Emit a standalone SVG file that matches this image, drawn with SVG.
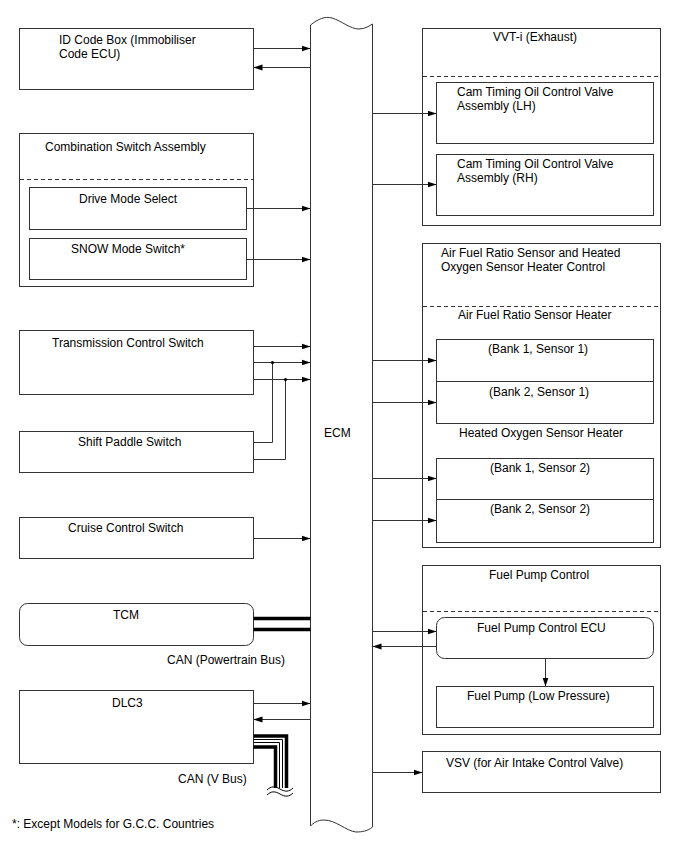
<svg xmlns="http://www.w3.org/2000/svg" width="688" height="852" viewBox="0 0 688 852">
<style>
text{font-family:"Liberation Sans",Arial,sans-serif;font-size:12px;fill:#000}
.b{fill:#fff;stroke:#333;stroke-width:1}
.d{fill:none;stroke:#333;stroke-width:1;stroke-dasharray:4 3}
.w{fill:none;stroke:#333;stroke-width:1}
.c{fill:none;stroke:#000;stroke-width:3.5}
.t{fill:none;stroke:#000;stroke-width:1}
.a{fill:none;stroke:#333;stroke-width:1;marker-end:url(#ah)}
</style>
<defs>
<marker id="ah" markerUnits="userSpaceOnUse" markerWidth="10" markerHeight="8" refX="9" refY="4" orient="auto">
<path d="M0,1 L9,4 L0,7 Z" fill="#000"/>
</marker>
</defs>
<rect width="688" height="852" fill="#fff"/>

<g id="ecm">
<path class="b" d="M310.5,25 C318,19 325,16 332,18 C342,21 350,29 359,29 C365,29 369,26 372.5,24 V827 C368,831 362,832 356,832 C346,831 336,820 324,820 C318,820 313,823 310.5,826 Z"/>
<text x="324" y="437">ECM</text>
</g>

<g id="id-code-box">
<rect class="b" x="19.5" y="28.5" width="234" height="61"/>
<text x="59" y="44">ID Code Box (Immobiliser</text>
<text x="59" y="58">Code ECU)</text>
</g>

<g id="combination-switch">
<rect class="b" x="19.5" y="133.5" width="234" height="153"/>
<text x="45" y="151">Combination Switch Assembly</text>
<line class="d" x1="20" y1="179.5" x2="253" y2="179.5"/>
<g id="drive-mode-select">
<rect class="b" x="29.5" y="187.5" width="217" height="42"/>
<text x="79" y="203">Drive Mode Select</text>
</g>
<g id="snow-mode-switch">
<rect class="b" x="29.5" y="238.5" width="217" height="41"/>
<text x="71" y="253">SNOW Mode Switch*</text>
</g>
</g>

<g id="transmission-control-switch">
<rect class="b" x="19.5" y="330.5" width="234" height="64"/>
<text x="52" y="347">Transmission Control Switch</text>
</g>

<g id="shift-paddle-switch">
<rect class="b" x="19.5" y="431.5" width="234" height="41"/>
<text x="78" y="446">Shift Paddle Switch</text>
</g>

<g id="cruise-control-switch">
<rect class="b" x="19.5" y="517.5" width="234" height="41"/>
<text x="68" y="532">Cruise Control Switch</text>
</g>

<g id="tcm">
<rect class="b" x="19.5" y="603.5" width="234" height="42" rx="8" ry="8"/>
<text x="113" y="619">TCM</text>
</g>

<g id="dlc3">
<rect class="b" x="19.5" y="690.5" width="234" height="73"/>
<text x="112" y="707">DLC3</text>
</g>

<g id="vvt-i">
<rect class="b" x="422.5" y="28.5" width="238" height="197"/>
<text x="493" y="41">VVT-i (Exhaust)</text>
<line class="d" x1="423" y1="76.5" x2="660" y2="76.5"/>
<g id="cam-lh">
<rect class="b" x="436.5" y="82.5" width="217" height="61"/>
<text x="457" y="96">Cam Timing Oil Control Valve</text>
<text x="457" y="110">Assembly (LH)</text>
</g>
<g id="cam-rh">
<rect class="b" x="436.5" y="154.5" width="217" height="61"/>
<text x="457" y="168">Cam Timing Oil Control Valve</text>
<text x="457" y="182">Assembly (RH)</text>
</g>
</g>

<g id="af-sensor-control">
<rect class="b" x="422.5" y="243.5" width="238" height="304"/>
<text x="441" y="257">Air Fuel Ratio Sensor and Heated</text>
<text x="441" y="271">Oxygen Sensor Heater Control</text>
<line class="d" x1="423" y1="306.5" x2="660" y2="306.5"/>
<text x="458" y="319">Air Fuel Ratio Sensor Heater</text>
<g id="af-b1s1">
<rect class="b" x="436.5" y="339.5" width="217" height="42"/>
<text x="488" y="353">(Bank 1, Sensor 1)</text>
</g>
<g id="af-b2s1">
<rect class="b" x="436.5" y="381.5" width="217" height="42"/>
<text x="489" y="396">(Bank 2, Sensor 1)</text>
</g>
<text x="459" y="437">Heated Oxygen Sensor Heater</text>
<g id="ho-b1s2">
<rect class="b" x="436.5" y="458.5" width="217" height="41"/>
<text x="490" y="472">(Bank 1, Sensor 2)</text>
</g>
<g id="ho-b2s2">
<rect class="b" x="436.5" y="499.5" width="217" height="43"/>
<text x="490" y="513">(Bank 2, Sensor 2)</text>
</g>
</g>

<g id="fuel-pump-control">
<rect class="b" x="422.5" y="565.5" width="238" height="169"/>
<text x="489" y="579">Fuel Pump Control</text>
<line class="d" x1="423" y1="611.5" x2="660" y2="611.5"/>
<g id="fuel-pump-ecu">
<rect class="b" x="436.5" y="617.5" width="217" height="41" rx="8" ry="8"/>
<text x="477" y="632">Fuel Pump Control ECU</text>
</g>
<g id="fuel-pump">
<rect class="b" x="436.5" y="686.5" width="217" height="41"/>
<text x="467" y="700">Fuel Pump (Low Pressure)</text>
</g>
</g>

<g id="vsv">
<rect class="b" x="422.5" y="751.5" width="238" height="41"/>
<text x="446" y="767">VSV (for Air Intake Control Valve)</text>
</g>

<g id="connectors">
<line class="a" x1="253.5" y1="48.5" x2="310.5" y2="48.5"/>
<line class="a" x1="310.5" y1="67.5" x2="253.5" y2="67.5"/>
<line class="a" x1="246.5" y1="208.5" x2="310.5" y2="208.5"/>
<line class="a" x1="246.5" y1="259.5" x2="310.5" y2="259.5"/>
<line class="a" x1="253.5" y1="346.5" x2="310.5" y2="346.5"/>
<line class="a" x1="253.5" y1="362.5" x2="310.5" y2="362.5"/>
<line class="a" x1="253.5" y1="379.5" x2="310.5" y2="379.5"/>
<polyline class="w" points="253.5,442.5 272.5,442.5 272.5,362.5"/>
<polyline class="w" points="253.5,459.5 285.5,459.5 285.5,379.5"/>
<circle cx="272.5" cy="362.5" r="1.6" fill="#000"/>
<circle cx="285.5" cy="379.5" r="1.6" fill="#000"/>
<line class="a" x1="253.5" y1="538.5" x2="310.5" y2="538.5"/>
<line class="c" x1="253.5" y1="618.5" x2="310.5" y2="618.5"/>
<line class="c" x1="253.5" y1="629.5" x2="310.5" y2="629.5"/>
<text x="167" y="664">CAN (Powertrain Bus)</text>
<line class="a" x1="253.5" y1="703.5" x2="310.5" y2="703.5"/>
<line class="a" x1="310.5" y1="719.5" x2="253.5" y2="719.5"/>
<path class="c" d="M253.5,736 H286.5 V788"/>
<path class="t" d="M253.5,739.5 H282.5 V788"/>
<path class="t" d="M253.5,742.5 H279.5 V788"/>
<path class="c" d="M253.5,747 H275.5 V788"/>
<path class="t" d="M267,790 C271,786 275,786 280,789 C285,792 289,792 293,788" stroke-width="1.5"/>
<path class="t" d="M267,795 C271,791 275,791 280,794 C285,797 289,797 293,793" stroke-width="1.5"/>
<text x="178" y="783">CAN (V Bus)</text>
<line class="a" x1="372.5" y1="113.5" x2="436.5" y2="113.5"/>
<line class="a" x1="372.5" y1="184.5" x2="436.5" y2="184.5"/>
<line class="a" x1="372.5" y1="360.5" x2="436.5" y2="360.5"/>
<line class="a" x1="372.5" y1="402.5" x2="436.5" y2="402.5"/>
<line class="a" x1="372.5" y1="478.5" x2="436.5" y2="478.5"/>
<line class="a" x1="372.5" y1="520.5" x2="436.5" y2="520.5"/>
<line class="a" x1="372.5" y1="631.5" x2="436.5" y2="631.5"/>
<line class="a" x1="436.5" y1="646.5" x2="372.5" y2="646.5"/>
<line class="a" x1="545.5" y1="658.5" x2="545.5" y2="686.5"/>
<line class="a" x1="372.5" y1="772.5" x2="422.5" y2="772.5"/>
</g>

<text x="12" y="828">*: Except Models for G.C.C. Countries</text>
</svg>
